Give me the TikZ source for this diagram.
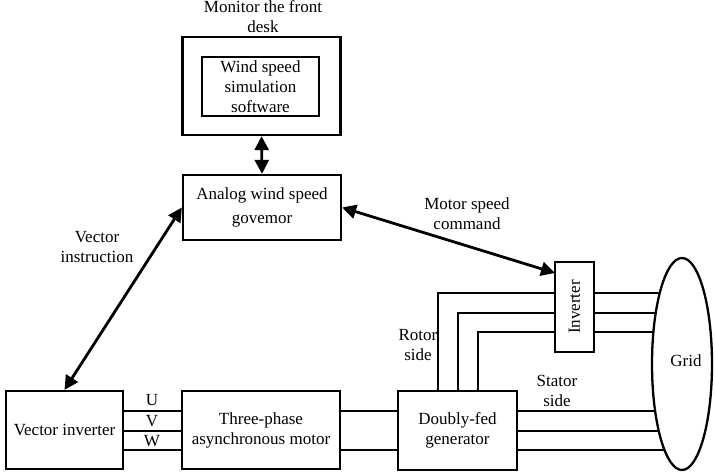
\documentclass[tikz,border=0pt]{standalone}
\usepackage{fontspec}
\setmainfont{Liberation Serif}
\usetikzlibrary{arrows.meta,shapes.geometric}
\begin{document}
\begin{tikzpicture}[x=1pt,y=-1pt,
  font=\fontsize{17}{20}\selectfont,
  box/.style={draw,line width=2.3pt,align=center,inner sep=0pt},
  wire/.style={line width=2.3pt},
  dbl/.style={line width=2.8pt,{Triangle[length=14pt,width=14pt]}-{Triangle[length=14pt,width=14pt]}},
  lbl/.style={align=center,inner sep=0pt}]
\useasboundingbox (0,0) rectangle (715,473);
% boxes
\node[box,minimum width=158pt,minimum height=98pt] (monitor) at (261.5,86) {};
\node[box,minimum width=117pt,minimum height=59pt] (sw) at (260.5,86.5) {Wind speed\\simulation\\software};
\node[box,minimum width=158pt,minimum height=65pt] (analog) at (262,207.5) {Analog wind speed\\[4pt]govemor};
\node[box,minimum width=117pt,minimum height=78pt] (vinv) at (64.5,430) {Vector inverter};
\node[box,minimum width=158pt,minimum height=78pt] (motor) at (261,430) {Three-phase\\asynchronous motor};
\node[box,minimum width=119pt,minimum height=79pt] (gen) at (457.5,430.5) {Doubly-fed\\generator};
\node[box,minimum width=39pt,minimum height=90pt] (inv) at (574.5,307) {};
\node[rotate=90,inner sep=0pt] (invtxt) at (inv.center) {Inverter};
\node[draw,ellipse,line width=2.3pt,minimum width=60pt,minimum height=212pt,inner sep=0pt] (grid) at (682,364) {};
\node[lbl] (gridtxt) at (686,361) {Grid};
% labels
\node[lbl] (montxt) at (263,17) {Monitor the front\\desk};
\node[lbl] (vectxt) at (97,247) {Vector\\instruction};
\node[lbl] (mottxt) at (467,214) {Motor speed\\command};
\node[lbl] (rottxt) at (418,345) {Rotor\\side};
\node[lbl] (stattxt) at (557,391) {Stator\\side};
\node[lbl] (U) at (152,400) {U};
\node[lbl] (V) at (152,421) {V};
\node[lbl] (W) at (152,441) {W};
% arrows
\draw[dbl] (monitor.south) -- (analog.north);
\draw[dbl] (analog.west) -- (vinv.north);
\coordinate (invin) at (555,273);
\draw[dbl] (analog.east) -- (invin);
% wire levels
\coordinate (s1) at (0,411);
\coordinate (s2) at (0,431);
\coordinate (s3) at (0,450);
\coordinate (r1) at (438,293);
\coordinate (r2) at (458,313);
\coordinate (r3) at (478,332);
% UVW
\draw[wire] (vinv.east |- s1) -- (motor.west |- s1);
\draw[wire] (vinv.east |- s2) -- (motor.west |- s2);
\draw[wire] (vinv.east |- s3) -- (motor.west |- s3);
% motor to generator
\draw[wire] (motor.east |- s1) -- (gen.west |- s1);
\draw[wire] (motor.east |- s3) -- (gen.west |- s3);
% rotor side
\draw[wire] (r1 |- gen.north) |- (inv.west |- r1);
\draw[wire] (r2 |- gen.north) |- (inv.west |- r2);
\draw[wire] (r3 |- gen.north) |- (inv.west |- r3);
% inverter to grid
\coordinate (g1) at (659.7,293);
\coordinate (g2) at (655.7,313);
\coordinate (g3) at (653.4,332);
\draw[wire] (inv.east |- r1) -- (g1);
\draw[wire] (inv.east |- r2) -- (g2);
\draw[wire] (inv.east |- r3) -- (g3);
% stator side
\coordinate (g4) at (655.1,411);
\coordinate (g5) at (658.8,431);
\coordinate (g6) at (664.4,450);
\draw[wire] (gen.east |- s1) -- (g4);
\draw[wire] (gen.east |- s2) -- (g5);
\draw[wire] (gen.east |- s3) -- (g6);
\end{tikzpicture}
\end{document}
